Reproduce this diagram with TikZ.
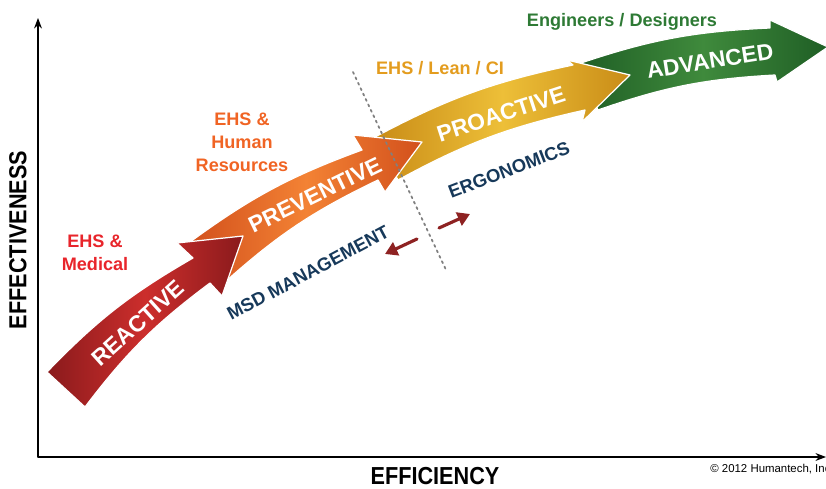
\documentclass[tikz,border=0pt]{standalone}
\usepackage{fontspec}
\setmainfont{Liberation Sans}
\usepackage{tikz}
\usetikzlibrary{arrows,arrows.meta}
\definecolor{ReactiveDark}{HTML}{8A1A1C}
\definecolor{ReactiveLight}{HTML}{CC2E2C}
\definecolor{PreventiveDark}{HTML}{D2501C}
\definecolor{PreventiveLight}{HTML}{F38234}
\definecolor{ProactiveDark}{HTML}{C98C17}
\definecolor{ProactiveLight}{HTML}{EDBF38}
\definecolor{AdvancedDark}{HTML}{1F5E25}
\definecolor{AdvancedLight}{HTML}{3F8A3C}
\definecolor{MedicalRed}{HTML}{E8252B}
\definecolor{HumanOrange}{HTML}{F06424}
\definecolor{LeanGold}{HTML}{E39C1E}
\definecolor{DesignGreen}{HTML}{2E7A35}
\definecolor{ToolNavy}{HTML}{17395A}
\definecolor{ShiftRed}{HTML}{8E2222}
\newcommand{\AxisColor}{black}

\begin{document}
\begin{tikzpicture}[line cap=round,line join=round,>={Stealth[length=6pt,width=4.5pt]},x=0.02cm,y=0.02cm,
  ribbon/.style={draw=white,line width=0.7pt},
  stage/.style={text=white,font=\bfseries\fontsize{13}{15}\selectfont,inner sep=0pt},
  owner/.style={font=\bfseries\fontsize{10.3}{13}\selectfont,align=center,inner sep=0pt},
  tool/.style={text=ToolNavy,font=\bfseries\fontsize{10.5}{12}\selectfont,inner sep=0pt},
  axislabel/.style={font=\bfseries\fontsize{14}{16}\selectfont,inner sep=0pt},
  shiftarrow/.style={-{Triangle[length=7pt,width=8pt]},color=ShiftRed,line width=1.8pt},
  divider/.style={color=gray,line width=1pt,dash pattern=on 1.2pt off 2.2pt}]
  \useasboundingbox (0,0) rectangle (826,488);
  \draw[ribbon,left color=AdvancedDark,right color=AdvancedDark,middle color=AdvancedLight]
    (578,424) to[bend left=8] (770,460) -- (770,468) -- (828,441) -- (777,406)
    -- (775,413) to[bend right=8] (598,378) -- cycle;
  \draw[ribbon,left color=ProactiveDark,right color=ProactiveDark,middle color=ProactiveLight]
    (375,351) to[bend left=8] (573,423) -- (567,428) -- (630,413) -- (582,366)
    -- (585,378) to[bend right=8] (398,308) -- cycle;
  \draw[ribbon,left color=PreventiveDark,right color=PreventiveDark,middle color=PreventiveLight]
    (190,246) to[bend left=8] (362,338) -- (353,353) -- (422,346) -- (385,296)
    -- (378,308) to[bend right=8] (225,206) -- cycle;
  \draw[ribbon,left color=ReactiveDark,right color=ReactiveDark,middle color=ReactiveLight]
    (47,116) to[bend left=8] (193,230) -- (177,245) -- (243,252) -- (222,192)
    -- (210,205) to[bend right=8] (85,81) -- cycle;
  \node[stage,rotate=42] (reactive) at (138,165) {REACTIVE};
  \node[stage,rotate=26] (preventive) at (315,293) {PREVENTIVE};
  \node[stage,rotate=18] (proactive) at (501,374) {PROACTIVE};
  \node[stage,rotate=9] (advanced) at (710,427) {ADVANCED};
  \node[owner,text=MedicalRed] (medical) at (95,235) {EHS \&\\Medical};
  \node[owner,text=HumanOrange] (humanres) at (242,346) {EHS \&\\Human\\Resources};
  \node[owner,text=LeanGold] (lean) at (440,420) {EHS / Lean / CI};
  \node[owner,text=DesignGreen] (designers) at (622,466) {Engineers / Designers};
  \node[tool,rotate=28] (msd) at (308,215) {MSD MANAGEMENT};
  \node[tool,rotate=21] (ergo) at (509,318) {ERGONOMICS};
  \coordinate (divtop) at (353,416);
  \coordinate (divbot) at (447,216);
  \draw[divider] (divtop) -- (divbot);
  \coordinate (backstart) at (417,249);
  \coordinate (backend) at (385,234);
  \coordinate (fwdstart) at (439,260);
  \coordinate (fwdend) at (470,274);
  \draw[shiftarrow] (backstart) -- (backend);
  \draw[shiftarrow] (fwdstart) -- (fwdend);
  \coordinate (origin) at (38,31);
  \coordinate (ytop) at (38,470);
  \coordinate (xend) at (826,31);
  \draw[->,color=\AxisColor,line width=0.7pt] (origin) -- (ytop);
  \draw[->,color=\AxisColor,line width=0.7pt] (origin) -- (xend);
  \node[axislabel,rotate=90,xscale=0.88] (effectiveness) at (18,248) {EFFECTIVENESS};
  \node[axislabel,xscale=0.88] (efficiency) at (435,12) {EFFICIENCY};
  \node[anchor=west,font=\fontsize{6.5}{8}\selectfont,inner sep=0pt] (copyright) at (710,19) {© 2012 Humantech, Inc};
\end{tikzpicture}
\end{document}
